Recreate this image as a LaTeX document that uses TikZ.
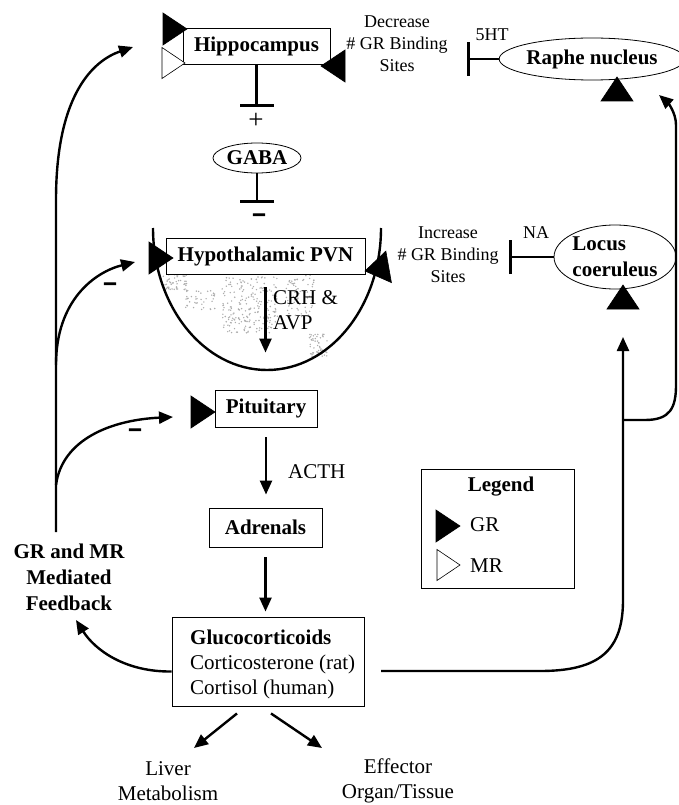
\documentclass[tikz,border=0pt]{standalone}
\usepackage{fontspec}
\setmainfont{Liberation Serif}
\newfontfamily\signfont[FakeBold=6]{Liberation Sans}
\usetikzlibrary{arrows.meta,positioning,shapes.geometric}

\tikzset{
  bigtxt/.style={font=\fontsize{21}{26}\selectfont\bfseries},
  lbl/.style={font=\fontsize{21}{25}\selectfont},
  smalltxt/.style={font=\fontsize{18}{22}\selectfont, align=center},
  region/.style={draw, line width=0.9pt, fill=white, bigtxt, inner sep=0pt},
  nucleus/.style={ellipse, draw, line width=0.8pt, fill=white, bigtxt, inner sep=0pt},
  arr/.style={line width=2.4pt, -{Triangle[length=14pt,width=12pt]}},
  inhib/.style={line width=2.4pt, -{Bar[width=34pt,line width=3pt]}},
  minussign/.style={font=\fontsize{22}{25}\signfont, inner sep=0pt},
  gr/.pic={\filldraw[line width=0.6pt] (0,0) -- (-24,-16) -- (-24,16) -- cycle;},
  mr/.pic={\filldraw[line width=0.6pt, fill=white] (0,0) -- (-23,-15.5) -- (-23,15.5) -- cycle;}
}

\begin{document}
\begin{tikzpicture}[x=1pt, y=-1pt]
\useasboundingbox (0,0) rectangle (679,805);

% speckle in the PVN
\pgfmathsetseed{12}
\foreach \cx/\cy/\rx/\ry/\n in {175/282/12/8/50, 250/305/28/28/220, 292/246/32/6/70, 318/345/9/12/50, 300/295/14/22/80, 200/300/15/10/40}
  \foreach \k in {1,...,\n}
    \fill[gray!65] (\cx+\rx*rand, \cy+\ry*rand) circle[radius=0.8pt];

\draw[line width=2.4pt] (153,228) arc[start angle=180, end angle=360, x radius=114pt, y radius=142pt];

\node[region, minimum width=147pt, minimum height=36pt] (hippo) at (256.5,46) {Hippocampus};
\node[nucleus, minimum width=88pt, minimum height=30pt] (gaba) at (257,158) {GABA};
\node[region, minimum width=199pt, minimum height=36pt] (pvn) at (265.5,256) {Hypothalamic PVN};
\node[region, minimum width=102pt, minimum height=37pt] (pit) at (266,408.5) {Pituitary};
\node[region, minimum width=113pt, minimum height=39pt] (adr) at (265.5,527.5) {Adrenals};
\node[region, minimum width=192pt, minimum height=89pt] (gluco) at (268,661.5) {};
\node[lbl, anchor=west, align=left, inner sep=0pt] (glutext) at (190,664) {\textbf{Glucocorticoids}\\Corticosterone (rat)\\Cortisol (human)};
\node[nucleus, minimum width=159pt, minimum height=42pt] (raphe) at (592,59) {Raphe nucleus};
\node[nucleus, minimum width=122pt, minimum height=64pt, align=left] (locus) at (615,257) {Locus\\coeruleus};

\node[draw, line width=0.9pt, minimum width=153pt, minimum height=119pt] (legend) at (497.5,528.5) {};
\node[bigtxt] (legtitle) at (501,487) {Legend};
\node[lbl, anchor=west, inner sep=0pt] (grtxt) at (470,525) {GR};
\node[lbl, anchor=west, inner sep=0pt] (mrtxt) at (470,566) {MR};

\pic (hipGR) at (187,29) {gr};
\pic (hipMR) at (185,63) {mr};
\pic[rotate=180] (hipGRr) at (321,66) {gr};
\pic[rotate=90] (rapGR) at (617,77) {gr};
\pic (pvnGR) at (173,258) {gr};
\pic[rotate=190] (pvnGRr) at (365,271) {gr};
\pic[rotate=90] (locGR) at (623,285) {gr};
\pic (pitGR) at (215,412) {gr};
\pic (legGR) at (460,526) {gr};
\pic (legMR) at (460,565) {mr};

\coordinate (hipBar) at (256.5,107);
\coordinate (gabaBar) at (257,203);
\coordinate (rapheBar) at (467,59);
\coordinate (locusBar) at (509,257);
\draw[inhib] (hippo.south) -- (hipBar);
\draw[inhib] (gaba.south) -- (gabaBar);
\draw[inhib] (raphe.west) -- (rapheBar);
\draw[inhib] (locus.west) -- (locusBar);
\node[font=\fontsize{27}{27}\selectfont, inner sep=0pt] (plus) at (256,121) {+};
\node[minussign] (mGaba) at (259,218) {−};

\node[smalltxt] (decr) at (397,44) {Decrease\\\# GR Binding\\Sites};
\node[smalltxt] (incr) at (448,255) {Increase\\\# GR Binding\\Sites};
\node[smalltxt] (sht) at (492,35) {5HT};
\node[smalltxt] (na) at (536,233) {NA};

\draw[arr, shorten <=13pt, shorten >=37pt] (pvn.south) -- (pvn.south |- pit.north);
\node[lbl, anchor=west, align=left, inner sep=0pt] (crh) at (273,310) {CRH \&\\AVP};
\draw[arr, shorten <=10pt, shorten >=13pt] (pit.south) -- (pit.south |- adr.north);
\node[lbl, anchor=west, inner sep=0pt] (acth) at (288,472) {ACTH};
\draw[arr, shorten <=10pt, shorten >=5pt] (adr.south) -- (adr.south |- gluco.north);

\node[lbl, align=center] (liver) at (168,781) {Liver\\Metabolism};
\node[lbl, align=center] (effector) at (398,781) {Effector\\Organ/Tissue};
\coordinate (liverTip) at (194,748);
\coordinate (effTip) at (322,748);
\draw[arr] ([xshift=-31pt, yshift=-7pt]gluco.south) -- (liverTip);
\draw[arr] ([xshift=3pt, yshift=-7pt]gluco.south) -- (effTip);

\node[bigtxt, align=center] (fb) at (69,577) {GR and MR\\Mediated\\Feedback};
\coordinate (fbTip) at (76,620);
\draw[arr] ([yshift=-10pt]gluco.west) .. controls (125,672) and (95,650) .. (fbTip);

\coordinate (fbTop) at (56,532);
\coordinate (hipIn) at (133,47);
\coordinate (pvnIn) at (135,262);
\coordinate (pitIn) at (173,417);
\draw[arr] (fbTop) -- (56,200) .. controls (56,92) and (95,60) .. (hipIn);
\draw[arr] (56,365) .. controls (56,300) and (95,272) .. (pvnIn);
\draw[arr] (56,485) .. controls (62,440) and (110,420) .. (pitIn);
\node[minussign] (mPvn) at (110,287) {−};
\node[minussign] (mPit) at (135,433) {−};

\coordinate (lcStart) at (381,671);
\coordinate (locusIn) at (623,337);
\coordinate (rapheIn) at (659,95);
\draw[arr] (lcStart) -- (540,671) .. controls (600,671) and (623,650) .. (623,600) -- (locusIn);
\draw[arr] (623,420) -- (645,420) .. controls (670,420) and (676,408) .. (676,385) -- (676,125) .. controls (676,112) and (667,102) .. (rapheIn);
\end{tikzpicture}
\end{document}
